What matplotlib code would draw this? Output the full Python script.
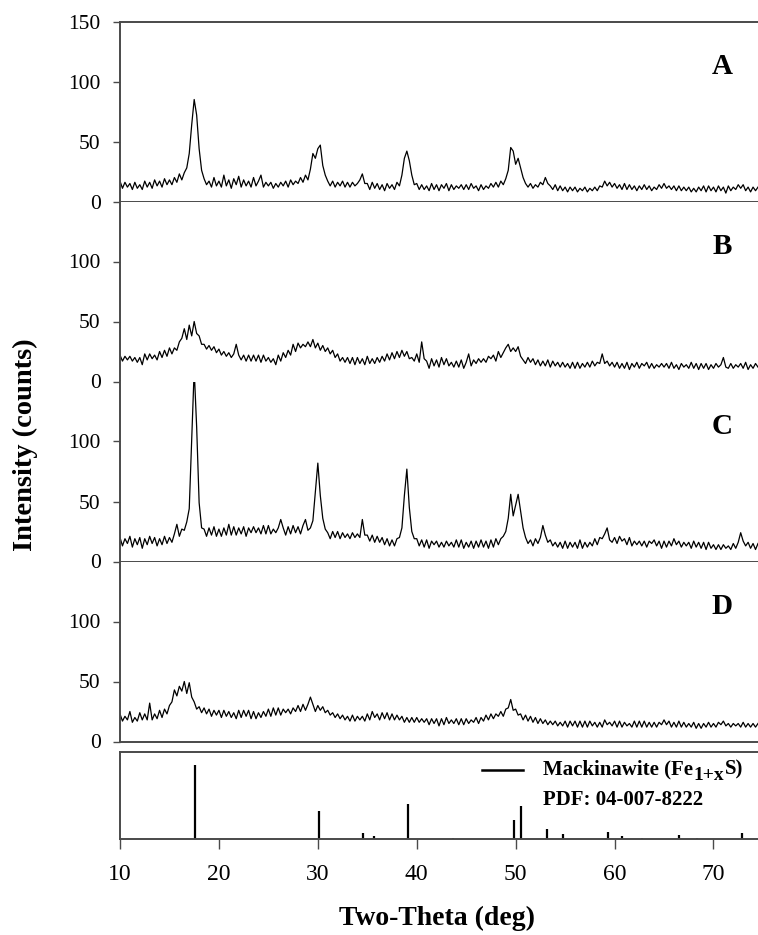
#!/usr/bin/env python3
"""
XRD patterns of four samples (A-D) stacked over the mackinawite reference sticks.
"""
import numpy as np
import matplotlib.pyplot as plt

plt.rcParams["font.family"] = ["Liberation Serif", "DejaVu Serif"]

# ─── Data (intensity every 0.25 deg from 10 to 74.5) ─────────────────────
TT_START, TT_STEP = 10.0, 0.25

pattern_a = [
    17, 11, 16, 12, 15, 10, 16, 11, 14, 10, 17, 12, 16, 11, 18, 13, 17, 12, 19, 14,
    18, 14, 20, 16, 23, 18, 24, 28, 40, 64, 85, 72, 44, 26, 19, 14, 17, 12, 20, 13,
    17, 12, 22, 13, 18, 11, 19, 14, 21, 12, 18, 13, 17, 12, 20, 13, 17, 22, 12, 16,
    13, 16, 11, 15, 12, 16, 13, 17, 12, 18, 14, 17, 15, 20, 16, 22, 18, 27, 40, 36,
    44, 47, 30, 22, 17, 13, 17, 12, 16, 13, 17, 12, 16, 12, 16, 13, 15, 18, 23, 15,
    15, 10, 16, 11, 15, 10, 14, 9, 15, 11, 14, 10, 16, 13, 22, 36, 42, 34, 22, 14,
    15, 10, 14, 10, 13, 9, 15, 10, 14, 9, 14, 11, 15, 9, 14, 10, 13, 11, 14, 10,
    14, 10, 15, 11, 13, 9, 14, 10, 13, 11, 15, 12, 16, 12, 17, 14, 19, 26, 45, 42,
    31, 36, 28, 20, 15, 12, 15, 11, 14, 12, 16, 14, 20, 15, 13, 10, 14, 9, 13, 9,
    12, 8, 12, 9, 12, 8, 11, 9, 12, 8, 11, 9, 12, 9, 13, 12, 17, 13, 16, 12,
    15, 11, 14, 10, 15, 10, 14, 10, 13, 9, 13, 10, 14, 10, 13, 9, 12, 10, 14, 11,
    15, 11, 13, 10, 13, 9, 13, 9, 12, 9, 12, 8, 11, 8, 12, 9, 13, 8, 13, 9,
    12, 8, 13, 9, 12, 7, 13, 9, 12, 10, 14, 11, 14, 9, 12, 8, 12, 9, 12,
]
pattern_b = [
    22, 17, 21, 18, 21, 17, 20, 16, 20, 14, 23, 18, 23, 19, 22, 18, 25, 20, 26, 21,
    28, 23, 28, 26, 33, 36, 44, 35, 47, 38, 50, 40, 38, 31, 31, 27, 30, 26, 29, 24,
    27, 22, 25, 21, 24, 20, 23, 31, 22, 18, 22, 17, 22, 17, 22, 17, 22, 16, 22, 17,
    20, 16, 19, 14, 22, 17, 24, 20, 26, 22, 31, 25, 32, 28, 31, 29, 33, 29, 35, 28,
    32, 26, 30, 25, 28, 23, 26, 20, 23, 17, 20, 16, 20, 15, 20, 14, 20, 15, 19, 14,
    21, 15, 19, 15, 20, 16, 21, 17, 23, 18, 24, 19, 25, 20, 26, 21, 25, 19, 20, 17,
    23, 16, 33, 19, 17, 11, 19, 13, 18, 12, 20, 14, 19, 13, 16, 12, 17, 12, 18, 11,
    16, 23, 13, 18, 15, 19, 16, 19, 16, 21, 19, 22, 17, 25, 20, 24, 28, 31, 25, 28,
    25, 29, 21, 18, 15, 20, 16, 19, 14, 18, 13, 17, 13, 18, 12, 17, 13, 16, 12, 16,
    12, 15, 11, 16, 11, 16, 11, 15, 12, 16, 12, 17, 13, 16, 15, 23, 15, 17, 13, 16,
    12, 16, 11, 15, 11, 16, 10, 15, 12, 16, 11, 15, 13, 16, 11, 15, 11, 14, 12, 15,
    12, 15, 11, 16, 11, 14, 10, 15, 12, 14, 11, 16, 11, 15, 10, 15, 11, 15, 10, 14,
    11, 15, 12, 14, 20, 12, 11, 15, 11, 14, 12, 15, 11, 16, 10, 14, 11, 15, 12,
]
pattern_c = [
    20, 13, 19, 15, 21, 12, 19, 14, 20, 11, 19, 14, 21, 15, 20, 13, 19, 14, 21, 15,
    20, 16, 23, 31, 21, 27, 26, 33, 44, 102, 160, 112, 49, 28, 27, 21, 28, 22, 29, 21,
    27, 21, 28, 22, 31, 22, 29, 22, 28, 23, 29, 21, 28, 24, 29, 24, 28, 23, 30, 23,
    30, 23, 27, 24, 28, 35, 28, 22, 29, 23, 30, 24, 29, 23, 30, 35, 26, 28, 34, 58,
    82, 55, 36, 27, 24, 19, 25, 20, 25, 19, 24, 20, 23, 19, 24, 20, 23, 20, 35, 22,
    22, 17, 22, 16, 21, 16, 20, 14, 19, 13, 18, 13, 19, 20, 28, 55, 77, 45, 25, 19,
    19, 13, 18, 12, 18, 11, 17, 14, 17, 12, 16, 12, 17, 13, 16, 12, 18, 12, 18, 11,
    16, 12, 17, 11, 17, 12, 18, 12, 17, 11, 18, 12, 19, 14, 19, 21, 25, 36, 56, 38,
    47, 56, 42, 28, 20, 15, 18, 13, 19, 15, 20, 30, 22, 16, 18, 13, 16, 12, 16, 11,
    17, 11, 16, 12, 16, 11, 18, 11, 16, 12, 16, 13, 19, 14, 20, 19, 23, 28, 18, 16,
    20, 15, 21, 17, 19, 14, 20, 13, 17, 14, 17, 13, 17, 12, 17, 15, 18, 13, 17, 11,
    17, 12, 17, 13, 19, 14, 17, 12, 16, 13, 16, 11, 17, 12, 16, 11, 16, 10, 16, 11,
    14, 10, 14, 10, 14, 11, 13, 10, 15, 11, 16, 24, 17, 13, 16, 11, 15, 10, 15,
]
pattern_d = [
    23, 17, 21, 18, 25, 16, 20, 17, 24, 18, 23, 18, 32, 18, 23, 19, 26, 20, 27, 23,
    30, 33, 43, 38, 46, 42, 50, 40, 49, 37, 33, 27, 29, 24, 28, 23, 27, 21, 26, 22,
    26, 20, 26, 21, 25, 20, 24, 19, 26, 20, 26, 21, 26, 19, 25, 19, 24, 20, 25, 21,
    27, 21, 28, 22, 28, 22, 27, 24, 27, 23, 28, 25, 30, 25, 31, 26, 31, 37, 31, 25,
    30, 26, 29, 24, 26, 22, 24, 20, 23, 19, 22, 18, 21, 17, 22, 17, 21, 18, 21, 17,
    23, 18, 25, 20, 23, 18, 24, 19, 24, 18, 23, 18, 22, 18, 21, 16, 20, 16, 20, 16,
    20, 16, 19, 16, 19, 14, 19, 15, 19, 13, 19, 14, 20, 15, 18, 15, 19, 14, 19, 14,
    19, 15, 18, 16, 20, 15, 20, 17, 22, 18, 23, 19, 23, 21, 25, 21, 27, 28, 35, 26,
    27, 22, 23, 18, 22, 17, 21, 16, 20, 15, 19, 15, 18, 14, 17, 14, 17, 13, 16, 13,
    17, 12, 17, 13, 17, 12, 17, 12, 17, 12, 17, 13, 16, 12, 16, 12, 18, 14, 16, 13,
    17, 12, 17, 12, 16, 13, 15, 12, 17, 12, 17, 12, 17, 12, 16, 12, 16, 12, 16, 14,
    18, 14, 17, 12, 16, 12, 17, 12, 16, 12, 15, 12, 16, 11, 15, 11, 15, 12, 16, 12,
    15, 12, 16, 14, 17, 13, 15, 12, 15, 13, 15, 12, 16, 12, 15, 12, 15, 12, 15,
]
PATTERNS = {"A": pattern_a, "B": pattern_b, "C": pattern_c, "D": pattern_d}

# Mackinawite reference lines (PDF 04-007-8222), relative intensity
ref_pos = [17.6, 30.1, 34.6, 35.7, 39.1, 43.7, 49.8, 50.5, 53.2, 54.8,
           59.3, 60.8, 62.8, 66.5, 68.3, 72.9]
ref_int = [85, 32, 6.5, 3.5, 40, 1.7, 22, 38, 12, 5.4,
           7.7, 3.5, 1.2, 4.6, 1.2, 6.9]

XLIM = (10, 74.5)
XTICKS = [10, 20, 30, 40, 50, 60, 70]
SPINE = "#4a4a4a"


def style_panel(ax, top_spine):
    ax.set_xlim(*XLIM)
    ax.spines["right"].set_visible(False)
    ax.spines["top"].set_visible(top_spine)
    for s in ("left", "top", "bottom"):
        ax.spines[s].set_color(SPINE)
        ax.spines[s].set_linewidth(1.4)
    ax.tick_params(axis="y", direction="out", length=5, width=1,
                   color=SPINE, labelsize=15.5, pad=9)


def main():
    fig = plt.figure(figsize=(7.58, 9.35), dpi=100)
    W, H = 758, 935
    left = 120 / W
    width = 1 - left

    panel_h = 180
    tops = [21.5, 201.5, 381.5, 561.5]
    for i, (name, vals) in enumerate(PATTERNS.items()):
        top = tops[i]
        ax = fig.add_axes([left, 1 - (top + panel_h) / H, width, panel_h / H])
        tt = TT_START + TT_STEP * np.arange(len(vals))
        ax.plot(tt, vals, color="black", lw=0.9)
        ax.set_ylim(0, 150)
        ax.set_yticks([0, 50, 100, 150] if i == 0 else [0, 50, 100])
        ax.set_xticks([])
        style_panel(ax, top_spine=(i == 0))
        ax.text(0.944, 0.75, name, transform=ax.transAxes, ha="center",
                va="center", fontsize=21, fontweight="bold")

    # reference stick pattern
    axr = fig.add_axes([left, 1 - 839 / H, width, 87.5 / H])
    axr.vlines(ref_pos, 0, ref_int, color="black", lw=1.6)
    axr.set_ylim(0, 100)
    axr.set_yticks([])
    style_panel(axr, top_spine=True)
    axr.set_xticks(XTICKS)
    axr.tick_params(axis="x", direction="out", length=7, width=1,
                    color=SPINE, labelsize=17, pad=11)

    # legend key
    axr.plot([0.567, 0.632], [0.79, 0.79], transform=axr.transAxes,
             color="black", lw=1.8)
    t1 = axr.text(0.663, 0.79, "Mackinawite (Fe", transform=axr.transAxes,
                  ha="left", va="center", fontsize=15, fontweight="bold")
    t2 = axr.annotate("1+x", xy=(1, 0), xycoords=t1, xytext=(0.5, -3),
                      textcoords="offset points", ha="left", va="bottom",
                      fontsize=14, fontweight="bold")
    axr.annotate("S)", xy=(1, 0), xycoords=(t2, t1), xytext=(0.5, 0),
                 textcoords="offset points", ha="left", va="bottom",
                 fontsize=15, fontweight="bold")
    axr.text(0.663, 0.45, "PDF: 04-007-8222", transform=axr.transAxes,
             ha="left", va="center", fontsize=15, fontweight="bold")

    fig.text(437 / W, 1 - 918 / H, "Two-Theta (deg)", ha="center", va="center",
             fontsize=20, fontweight="bold")
    fig.text(25 / W, 1 - 445 / H, "Intensity (counts)", ha="center", va="center",
             rotation=90, fontsize=20.5, fontweight="bold")

    fig.savefig("out.png", dpi=100)


if __name__ == "__main__":
    main()
